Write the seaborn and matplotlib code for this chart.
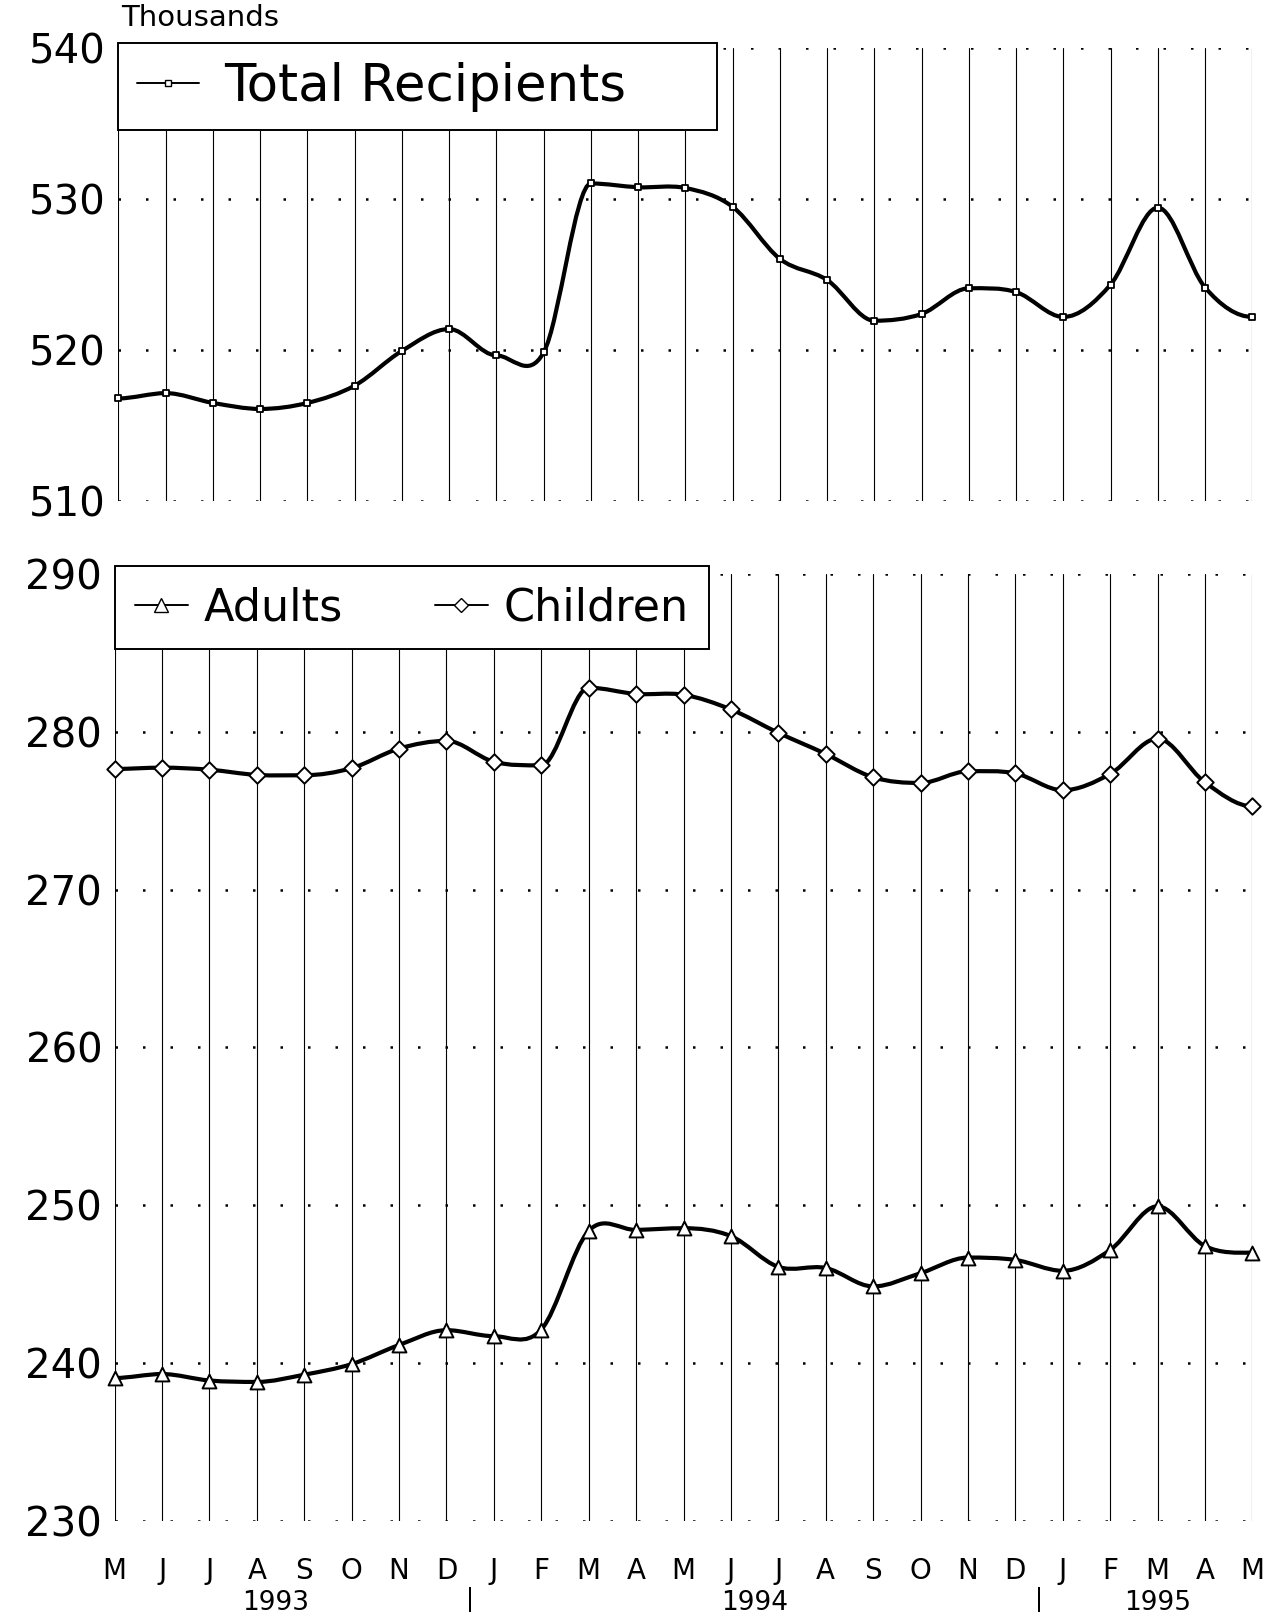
import numpy as np
import pandas as pd
import seaborn as sns
import matplotlib.pyplot as plt
from matplotlib.path import Path
from matplotlib.patches import PathPatch
from matplotlib.lines import Line2D
import matplotlib.transforms as mtransforms

# month labels, May 1993 - May 1995
months = ['M', 'J', 'J', 'A', 'S', 'O', 'N', 'D', 'J', 'F', 'M', 'A', 'M',
          'J', 'J', 'A', 'S', 'O', 'N', 'D', 'J', 'F', 'M', 'A', 'M']
years = ['1993', '1994', '1995']
year_pos = [3.4, 13.5, 22.0]
year_breaks = [7.5, 19.5]

# values in thousands
total = [516.8, 517.15, 516.5, 516.1, 516.5, 517.65, 519.95, 521.4, 519.65, 519.85,
         531.05, 530.8, 530.75, 529.5, 526.05, 524.65, 521.95, 522.4, 524.1, 523.85,
         522.2, 524.35, 529.45, 524.15, 522.2]
adults = [239.06, 239.31, 238.9, 238.81, 239.27, 239.94, 241.15, 242.09, 241.71, 242.13,
          248.38, 248.44, 248.55, 248.05, 246.1, 246.03, 244.86, 245.7, 246.69, 246.54,
          245.85, 247.17, 249.94, 247.42, 247.0]
children = [277.65, 277.73, 277.6, 277.27, 277.25, 277.7, 278.94, 279.43, 278.1, 277.88,
            282.8, 282.4, 282.35, 281.42, 279.94, 278.6, 277.12, 276.76, 277.5, 277.37,
            276.3, 277.33, 279.57, 276.8, 275.28]

df = pd.DataFrame({'idx': np.arange(len(months)), 'month': months,
                   'total': total, 'adults': adults, 'children': children})

sns.set_style('white')
plt.rcParams['font.family'] = ['DejaVu Sans']
plt.rcParams['text.color'] = 'black'
plt.rcParams['xtick.color'] = 'black'
plt.rcParams['ytick.color'] = 'black'


def smooth_curve(ax, x, y):
    # smooth curve through the points (bezier segments), flat at peaks and troughs
    x = np.asarray(x, float)
    y = np.asarray(y, float)
    n = len(y)
    m = np.zeros(n)
    for i in range(1, n - 1):
        if (y[i] - y[i - 1]) * (y[i + 1] - y[i]) > 0:
            m[i] = (y[i + 1] - y[i - 1]) / 2.0
    verts = [(x[0], y[0])]
    codes = [Path.MOVETO]
    for i in range(n - 1):
        h = x[i + 1] - x[i]
        verts += [(x[i] + h / 3, y[i] + m[i] * h / 3),
                  (x[i + 1] - h / 3, y[i + 1] - m[i + 1] * h / 3),
                  (x[i + 1], y[i + 1])]
        codes += [Path.CURVE4] * 3
    patch = PathPatch(Path(verts, codes), facecolor='none', edgecolor='black',
                      lw=3.0, zorder=3, capstyle='round', joinstyle='round', clip_on=False)
    ax.add_patch(patch)


def style_axis(ax, ylo, yhi):
    ax.set_xlim(0, len(months) - 1)
    ax.set_ylim(ylo, yhi)
    ax.set_yticks(np.arange(ylo, yhi + 1, 10))
    ax.set_xticks(df['idx'])
    ax.xaxis.grid(True, color='black', lw=0.8, ls='-')
    ax.yaxis.grid(True, color='black', lw=1.8, ls=(0, (1, 10)))
    ax.tick_params(axis='both', length=0)
    ax.tick_params(axis='y', labelsize=29, pad=9)
    sns.despine(ax=ax, left=True, bottom=True)
    ax.set_xlabel('')
    ax.set_ylabel('')


fig = plt.figure(figsize=(12.74, 16.16), dpi=100)

# top panel: total recipients
ax1 = fig.add_axes([0.093, 0.690, 0.890, 0.280])
smooth_curve(ax1, df['idx'], df['total'])
sns.scatterplot(data=df, x='idx', y='total', marker='s', s=22, color='white',
                edgecolor='black', linewidth=1.3, zorder=4, clip_on=False, ax=ax1)
style_axis(ax1, 510, 540)
ax1.set_xticklabels([])
h1 = [Line2D([], [], color='black', lw=1.4, marker='s', ms=4.5, mfc='white', mec='black')]
leg1 = ax1.legend(h1, ['Total Recipients'], loc='upper left',
                  bbox_to_anchor=(0.0, 0.5, 0.528, 0.512), mode='expand',
                  borderaxespad=0, fontsize=37, handlelength=1.2, handletextpad=0.5,
                  borderpad=0.36, fancybox=False, framealpha=1, edgecolor='black')
leg1.get_frame().set_linewidth(1.4)
leg1.set_zorder(10)

fig.text(0.095, 1 - 18 / 1616, 'Thousands', fontsize=21, va='center', ha='left')

# bottom panel: adults and children
ax2 = fig.add_axes([0.090, 0.0588, 0.893, 0.586])
smooth_curve(ax2, df['idx'], df['children'])
smooth_curve(ax2, df['idx'], df['adults'])
sns.scatterplot(data=df, x='idx', y='children', marker='D', s=70, color='white',
                edgecolor='black', linewidth=1.4, zorder=4, clip_on=False, ax=ax2)
sns.scatterplot(data=df, x='idx', y='adults', marker='^', s=100, color='white',
                edgecolor='black', linewidth=1.4, zorder=4, clip_on=False, ax=ax2)
style_axis(ax2, 230, 290)
ax2.set_xticklabels(months)
ax2.tick_params(axis='x', labelsize=20, pad=26)

h2 = [Line2D([], [], color='black', lw=1.4, marker='^', ms=10, mfc='white', mec='black'),
      Line2D([], [], color='black', lw=1.4, marker='D', ms=7, mfc='white', mec='black')]
leg2 = ax2.legend(h2, ['Adults', 'Children'], loc='upper left',
                  bbox_to_anchor=(0.0, 0.8, 0.522, 0.208), mode='expand',
                  borderaxespad=0, ncol=2, fontsize=32, handlelength=1.2, handletextpad=0.35,
                  columnspacing=0.9, borderpad=0.45, fancybox=False, framealpha=1,
                  edgecolor='black')
leg2.get_frame().set_linewidth(1.4)
leg2.set_zorder(10)

# year labels under the month letters
trans = mtransforms.blended_transform_factory(ax2.transData, ax2.transAxes)
for pos, yr in zip(year_pos, years):
    ax2.text(pos, -0.087, yr, transform=trans, fontsize=19, ha='center', va='center')
for pos in year_breaks:
    ax2.text(pos, -0.083, '|', transform=trans, fontsize=17, ha='center', va='center')

fig.savefig('out.png', dpi=100)
